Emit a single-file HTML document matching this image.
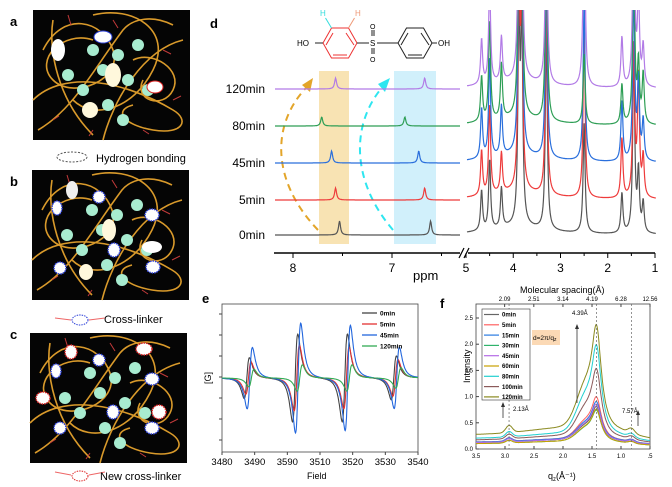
<!DOCTYPE html>
<html><head><meta charset="utf-8">
<style>
html,body{margin:0;padding:0;background:#fff;}
svg{display:block;font-family:"Liberation Sans",Arial,sans-serif;}
</style></head>
<body>
<svg id="fig" width="672" height="487" viewBox="0 0 672 487" xmlns="http://www.w3.org/2000/svg">
<defs>
  <g id="net">
    <rect x="0" y="0" width="157" height="130" fill="#050505"/>
    <g fill="none" stroke="#d99a2b" stroke-width="1.6">
      <path d="M10,40 C30,0 70,10 80,40 C90,70 40,90 20,70 C0,50 30,20 60,30"/>
      <path d="M60,5 C100,-5 140,20 120,60 C100,100 60,110 40,90"/>
      <path d="M0,90 C30,60 90,70 140,100 C157,110 150,125 120,120 C90,115 80,100 100,95"/>
      <path d="M70,130 C80,90 110,40 150,30"/>
      <path d="M5,120 C40,100 60,60 90,20 C100,8 120,5 140,15"/>
      <path d="M20,10 C15,40 25,90 60,125"/>
      <path d="M100,50 C120,40 150,60 140,80 C130,100 100,90 110,70"/>
    </g>
    <g fill="#a8ecd0">
      <circle cx="50" cy="80" r="6"/><circle cx="70" cy="60" r="6"/><circle cx="85" cy="45" r="6"/>
      <circle cx="105" cy="35" r="6"/><circle cx="95" cy="70" r="6"/><circle cx="115" cy="80" r="6"/>
      <circle cx="75" cy="95" r="6"/><circle cx="60" cy="40" r="6"/><circle cx="90" cy="110" r="6"/>
      <circle cx="35" cy="65" r="6"/>
    </g>
    <g stroke="#c23a3a" stroke-width="1">
      <path d="M35,5 l3,10 M80,10 l5,8 M130,40 l8,4 M20,110 l6,-4 M140,90 l8,-4 M110,120 l6,4 M60,120 l-4,6"/>
    </g>
  </g>
</defs>

<!-- panels a b c -->
<text x="10" y="26" font-size="13" font-weight="bold">a</text>
<use href="#net" x="33" y="10"/>
<ellipse cx="58" cy="50" rx="7" ry="11" fill="#fff"/>
<ellipse cx="103" cy="37" rx="9" ry="6" fill="#fff" stroke="#2a3ed8"/>
<ellipse cx="113" cy="75" rx="8" ry="12" fill="#fff8dc"/>
<ellipse cx="90" cy="110" rx="8" ry="8" fill="#fff8dc"/>
<ellipse cx="155" cy="87" rx="8" ry="6" fill="#fff" stroke="#d22"/>
<ellipse cx="72" cy="157" rx="15" ry="5" fill="none" stroke="#555" stroke-dasharray="2,1.5"/>
<text x="96" y="162" font-size="11">Hydrogen bonding</text>

<text x="10" y="186" font-size="13" font-weight="bold">b</text>
<use href="#net" x="32" y="170"/>
<g fill="#fff" stroke="#2a3ed8" stroke-width="1.5" stroke-dasharray="1.5,1">
<ellipse cx="99" cy="197" rx="6" ry="6"/><ellipse cx="57" cy="208" rx="5" ry="7"/><ellipse cx="152" cy="215" rx="7" ry="6"/>
<ellipse cx="114" cy="250" rx="6" ry="7"/><ellipse cx="60" cy="268" rx="6" ry="6"/><ellipse cx="153" cy="267" rx="7" ry="6"/>
</g>
<ellipse cx="109" cy="230" rx="7" ry="11" fill="#fff8dc"/><ellipse cx="86" cy="272" rx="7" ry="8" fill="#fff8dc"/>
<ellipse cx="72" cy="190" rx="6" ry="9" fill="#eee"/><ellipse cx="152" cy="247" rx="10" ry="6" fill="#fff"/>
<path d="M55,318 l16,2 M89,320 l16,-2" stroke="#e66" stroke-width="1"/>
<ellipse cx="80" cy="320" rx="8" ry="5" fill="#fff" stroke="#2a3ed8" stroke-dasharray="1.5,1"/>
<text x="104" y="323" font-size="11">Cross-linker</text>

<text x="10" y="339" font-size="13" font-weight="bold">c</text>
<use href="#net" x="30" y="333"/>
<g fill="#fff" stroke-width="1.5" stroke-dasharray="1.5,1">
<ellipse cx="71" cy="352" rx="6" ry="7" stroke="#d22"/><ellipse cx="99" cy="360" rx="6" ry="6" stroke="#2a3ed8"/>
<ellipse cx="144" cy="349" rx="8" ry="6" stroke="#d22"/><ellipse cx="56" cy="371" rx="5" ry="7" stroke="#2a3ed8"/>
<ellipse cx="152" cy="379" rx="7" ry="6" stroke="#2a3ed8"/><ellipse cx="43" cy="398" rx="7" ry="6" stroke="#d22"/>
<ellipse cx="113" cy="412" rx="6" ry="7" stroke="#2a3ed8"/><ellipse cx="159" cy="412" rx="7" ry="7" stroke="#d22"/>
<ellipse cx="60" cy="428" rx="6" ry="6" stroke="#2a3ed8"/><ellipse cx="152" cy="428" rx="7" ry="6" stroke="#2a3ed8"/>
</g>
<path d="M55,472 l16,3 M89,475 l16,-3" stroke="#e66" stroke-width="1"/>
<ellipse cx="80" cy="476" rx="8" ry="5" fill="#fff" stroke="#d22" stroke-dasharray="1.5,1"/>
<text x="100" y="480" font-size="11">New cross-linker</text>

<!-- panel d -->
<text x="210" y="28" font-size="13" font-weight="bold">d</text>
<g fill="none" stroke-width="1">
  <polygon points="323,43 331.5,28 348.5,28 357,43 348.5,58 331.5,58" stroke="#e33"/>
  <polygon points="398,43 406.5,28 423.5,28 432,43 423.5,58 406.5,58" stroke="#222"/>
  <path d="M326,45 L333,33 M346,33 L354,45 M333,55 L347,55" stroke="#e33"/>
  <path d="M401,45 L408,33 M421,33 L429,45 M408,55 L422,55" stroke="#222"/>
  <path d="M357,43 H369 M377,43 H398" stroke="#222"/>
  <path d="M372,30 v6 M374,30 v6 M372,48 v6 M374,48 v6" stroke="#222"/>
  <path d="M323,43 h-8 M432,43 h5" stroke="#222"/>
  <path d="M331.5,28 l-6,-10" stroke="#3dd"/>
  <path d="M348.5,28 l6,-10" stroke="#e97"/>
</g>
<text x="297" y="46" font-size="8">HO</text>
<text x="438" y="46" font-size="8">OH</text>
<text x="370" y="46" font-size="8">S</text>
<text x="370" y="29" font-size="7">O</text>
<text x="370" y="62" font-size="7">O</text>
<text x="320" y="16" font-size="8" fill="#3dd">H</text>
<text x="355" y="16" font-size="8" fill="#e97">H</text>
<rect x="319" y="71" width="30" height="173" fill="#f5d99a" opacity="0.75"/>
<rect x="394" y="71" width="42" height="173" fill="#bdeafa" opacity="0.7"/>
<path d="M318,230 C270,180 270,120 312,82" fill="none" stroke="#e3a52a" stroke-width="2" stroke-dasharray="7,5"/>
<polygon points="313,78 302,85 310,92" fill="#e3a52a"/>
<path d="M393,230 C350,180 350,120 387,82" fill="none" stroke="#2ee6f0" stroke-width="2" stroke-dasharray="7,5"/>
<polygon points="390,78 378,84 385,92" fill="#2ee6f0"/>
<g id="dspec"></g>
<g id="daxis"></g>
<text x="413" y="280" font-size="13">ppm</text>

<!-- panel e -->
<text x="202" y="303" font-size="13" font-weight="bold">e</text>
<rect x="222" y="304" width="196" height="148" fill="none" stroke="#444" stroke-width="0.8"/>
<g id="espec"></g>
<g id="eaxis"></g>
<text x="204" y="383" font-size="9" transform="rotate(-90 208 380)">[G]</text>
<text x="307" y="479" font-size="9">Field</text>
<g id="elegend"></g>

<!-- panel f -->
<text x="440" y="308" font-size="13" font-weight="bold">f</text>
<rect x="476" y="304" width="174" height="145" fill="none" stroke="#444" stroke-width="0.8"/>
<g id="fspec"></g>
<g id="faxis"></g>
<text x="520" y="293" font-size="9">Molecular spacing(Å)</text>
<text x="455" y="392" font-size="9" transform="rotate(-90 458 380)">Intensity</text>
<text x="548" y="479" font-size="9">q<tspan font-size="6" dy="2">z</tspan><tspan dy="-2">(Å⁻¹)</tspan></text>
<rect x="532" y="330" width="28" height="15" fill="#fbd9b5"/>
<text x="533" y="340" font-size="6.5">d=2π/q<tspan font-size="5" dy="1">z</tspan></text>
<text x="572" y="315" font-size="6">4.39Å</text>
<text x="513" y="411" font-size="6">2.13Å</text>
<text x="622" y="413" font-size="6">7.57Å</text>
<path d="M577,403 V327 M503,418 V405 M638,426 V413" stroke="#333" stroke-width="0.8"/>
<polygon points="575,329 579,329 577,324" fill="#333"/><polygon points="501,407 505,407 503,402" fill="#333"/><polygon points="636,415 640,415 638,410" fill="#333"/>
<g id="flegend"></g>

<script>
// ---------- panel d data ----------
const nmrSeries = ['0min','5min','45min','80min','120min'];
const nmrColors = ['#555555','#ee3b3b','#2a6fdc','#2e9e55','#b27be6'];
const nmrAromaA = [7.53, 7.57, 7.61, 7.71, 7.57];
const nmrAromaB = [6.61, 6.67, 6.73, 6.87, 6.67];
const nmrAromaH = [14, 12, 12, 9, 11];
const nmrAlkPpm = [4.67, 4.5, 4.25, 3.88, 3.82, 3.3, 2.5, 1.7, 1.45, 1.35, 1.25];
const nmrAlkH = [
  [40,70,40,200,200,200,110,40,180,60,30],
  [45,90,40,200,200,200,170,60,150,120,40],
  [50,100,50,200,200,200,160,60,170,80,40],
  [45,100,55,200,200,200,70,40,180,60,50],
  [45,100,45,200,200,200,200,50,200,90,40]];
const nmrBase = [235, 200, 163, 126, 89];

const NS='http://www.w3.org/2000/svg';
function mk(tag,attrs,parent){const e=document.createElementNS(NS,tag);for(const k in attrs)e.setAttribute(k,attrs[k]);parent.appendChild(e);return e;}
const xL = p => 293 + (8-p)*99;
const xR = p => 466 + (5-p)*47.25;
const dspec=document.getElementById('dspec');
const clip=mk('clipPath',{id:'dclip'},document.getElementById('fig'));
mk('rect',{x:270,y:10,width:400,height:240},clip);
dspec.setAttribute('clip-path','url(#dclip)');
nmrSeries.forEach((s,i)=>{
  const b=nmrBase[i];
  let d='';
  for(let x=275;x<=460;x+=0.5){
    const p=8-(x-293)/99;
    let y=0;
    [nmrAromaA[i],nmrAromaB[i]].forEach(c=>{y+=nmrAromaH[i]/(1+Math.pow((p-c)/0.012,2));});
    d+=(x===275?'M':'L')+x.toFixed(1)+','+(b-y).toFixed(1);
  }
  const pl=mk('path',{d:d,fill:'none',stroke:nmrColors[i],'stroke-width':1.2},dspec);
  
  
  let d2='';
  for(let x=467;x<=656;x+=0.4){
    const p=5-(x-466)/47.25;
    let y=0;
    nmrAlkPpm.forEach((c,k)=>{y+=nmrAlkH[i][k]/(1+Math.pow((p-c)/0.025,2));});
    y+=8/(1+Math.pow((p-3.9)/0.7,2));
    d2+=(x===467?'M':'L')+x.toFixed(1)+','+(b-y).toFixed(1);
  }
  const pr=mk('path',{d:d2,fill:'none',stroke:nmrColors[i],'stroke-width':1.2},dspec);
  
  
  const t=mk('text',{x:265,y:b+4,'font-size':12,'text-anchor':'end'},dspec.parentNode);
  t.textContent=s;
  
  
});
const daxis=document.getElementById('daxis');
mk('path',{d:'M274,253 H460 M468,253 H655',stroke:'#000','stroke-width':1.6},daxis);
mk('path',{d:'M459,258 l5,-10 M464,258 l5,-10',stroke:'#000','stroke-width':1.2},daxis);
const dTicksL=[8,7], dTicksR=[5,4,3,2,1];
dTicksL.forEach(v=>{mk('line',{x1:xL(v),x2:xL(v),y1:253,y2:258,stroke:'#000'},daxis);const t=mk('text',{x:xL(v),y:272,'font-size':12,'text-anchor':'middle'},daxis);t.textContent=v;});
[7.5,6.5].forEach(v=>mk('line',{x1:xL(v),x2:xL(v),y1:253,y2:256,stroke:'#000'},daxis));
dTicksR.forEach(v=>{mk('line',{x1:xR(v),x2:xR(v),y1:253,y2:258,stroke:'#000'},daxis);const t=mk('text',{x:xR(v),y:272,'font-size':12,'text-anchor':'middle'},daxis);t.textContent=v;});
[4.5,3.5,2.5,1.5].forEach(v=>mk('line',{x1:xR(v),x2:xR(v),y1:253,y2:256,stroke:'#000'},daxis));

// ---------- panel e data ----------
const esrSeries=['0min','5min','45min','120min'];
const esrColors=['#444444','#e33333','#2266dd','#33aa55'];
const esrCenters=[3487.6, 3502.4, 3517.6, 3532.6];
const esrShift=[0, 0.5, 0.9, 1.4];
const esrAmp=[[28,60,60,30],[22,45,42,25],[42,75,72,42],[12,18,18,14]];
const ex=f=>222+(f-3480)*196/60;
const ey0=378;
const espec=document.getElementById('espec');
esrSeries.forEach((s,i)=>{
  let d='';
  for(let f=3480;f<=3540;f+=0.1){
    let y=0;
    esrCenters.forEach((c,k)=>{const u=(f-c-esrShift[i])/0.8;y+=-esrAmp[i][k]*1.3*u/Math.pow(1+u*u/3,2);});
    d+=(f===3480?'M':'L')+ex(f).toFixed(1)+','+(ey0+y).toFixed(1);
  }
  const p=mk('path',{d:d,fill:'none',stroke:esrColors[i],'stroke-width':1.1},espec);
  
  
});
const eaxis=document.getElementById('eaxis');
const eTicks=[3480,3490,3500,3510,3520,3530,3540];
const eTickLabels=['3480','3490','3590','3510','3520','3530','3540'];
eTicks.forEach((v,k)=>{mk('line',{x1:ex(v),x2:ex(v),y1:452,y2:455,stroke:'#444'},eaxis);const t=mk('text',{x:ex(v),y:465,'font-size':9.5,'text-anchor':'middle'},eaxis);t.textContent=eTickLabels[k];});
for(let k=0;k<7;k++)mk('line',{x1:222,x2:219,y1:314+k*21,y2:314+k*21,stroke:'#444'},eaxis);
const el=document.getElementById('elegend');
esrSeries.forEach((s,i)=>{
  const y=313+i*11;
  mk('line',{x1:362,x2:377,y1:y,y2:y,stroke:esrColors[i],'stroke-width':1.3},el);
  const t=mk('text',{x:380,y:y+2.5,'font-size':6.5,'font-weight':'bold'},el);t.textContent=s;
});

// ---------- panel f data ----------
const xrdSeries=['0min','5min','15min','30min','45min','60min','80min','100min','120min'];
const xrdColors=['#666666','#ff6060','#2a7be0','#2fb36b','#b46be6','#c8a000','#22d0d0','#8b5a5a','#8a8a20'];
const xrdBase=[0.12,0.13,0.13,0.1,0.12,0.1,0.2,0.17,0.27];
const xrdPeak=[0.85,1.05,0.95,0.78,0.9,0.8,2.1,1.62,2.5];
const fx=q=>476+(3.5-q)*174/3;
const fy=v=>449-v*52.4;
const fspec=document.getElementById('fspec');
xrdSeries.forEach((s,i)=>{
  let d='';
  for(let q=3.5;q>=0.5;q-=0.01){
    const b=xrdBase[i];
    let v=b*(1+0.4*Math.exp(-Math.pow((q-2.0)/0.9,2)))*(q<1?0.4+0.6*q:1);
    v+=b*0.5*Math.exp(-Math.pow((q-2.93)/0.08,2));
    v+=b*0.35*Math.exp(-Math.pow((q-0.82)/0.08,2));
    const pk=xrdPeak[i]-b*1.2;
    v+=pk*0.8/(1+Math.pow((q-1.42)/0.1,2))+pk*0.3*Math.exp(-Math.pow((q-1.62)/0.22,2));
    d+=(d?'L':'M')+fx(q).toFixed(1)+','+fy(v).toFixed(1);
  }
  const p=mk('path',{d:d,fill:'none',stroke:xrdColors[i],'stroke-width':1},fspec);
  
  
});
const fa=document.getElementById('faxis');
[2.93,1.42,0.82].forEach(q=>mk('line',{x1:fx(q),x2:fx(q),y1:304,y2:449,stroke:'#666','stroke-dasharray':'2,2','stroke-width':0.7},fa));
const fTicks=[3.5,3.0,2.5,2.0,1.5,1.0,0.5];
const fTickLabels=['3.5','3.0','2.5','2.0','1.5','1.0','.5'];
fTicks.forEach((v,k)=>{mk('line',{x1:fx(v),x2:fx(v),y1:449,y2:446,stroke:'#444'},fa);const t=mk('text',{x:fx(v),y:458,'font-size':6,'text-anchor':'middle'},fa);t.textContent=fTickLabels[k];});
const fyTicks=[0,0.5,1.0,1.5,2.0,2.5];
fyTicks.forEach(v=>{mk('line',{x1:476,x2:479,y1:fy(v),y2:fy(v),stroke:'#444'},fa);const t=mk('text',{x:473,y:fy(v)+2,'font-size':6,'text-anchor':'end'},fa);t.textContent=v.toFixed(1);});
const topTicks=[2.09,2.51,3.14,4.19,6.28,12.56];
topTicks.forEach(d=>{const q=2*Math.PI/d;const t=mk('text',{x:fx(q),y:301,'font-size':6,'text-anchor':'middle'},fa);t.textContent=d.toFixed(2);mk('line',{x1:fx(q),x2:fx(q),y1:304,y2:307,stroke:'#444'},fa);});
const fl=document.getElementById('flegend');
mk('rect',{x:482,y:309,width:48,height:91,fill:'#fff',stroke:'#333','stroke-width':0.6},fl);
xrdSeries.forEach((s,i)=>{
  const y=314.5+i*10.3;
  mk('line',{x1:484,x2:499,y1:y,y2:y,stroke:xrdColors[i],'stroke-width':1.2},fl);
  const t=mk('text',{x:502,y:y+2.2,'font-size':6,'font-weight':'bold'},fl);t.textContent=s;
});
</script>
</svg>
</body></html>
